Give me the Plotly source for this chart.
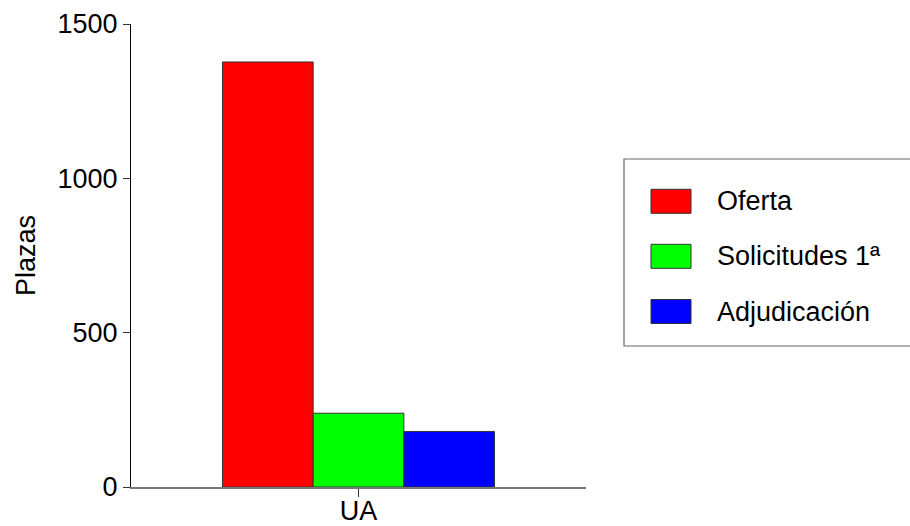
import plotly.graph_objects as go

categories = ["UA"]
series_names = ["Oferta", "Solicitudes 1ª", "Adjudicación"]
series_values = [[1377], [239], [180]]
series_colors = ["#ff0000", "#00ff00", "#0000ff"]
y_ticks = [0, 500, 1000, 1500]

W, H = 910, 526
# plot area in page pixel coordinates
L, R, T, B = 131, 586, 24, 487
FONT = "Liberation Sans, Arial, sans-serif"
FS = 27

def px(x):
    return (x - L) / (R - L)

def py(y):
    return (B - y) / (B - T)

fig = go.Figure()
for name, vals, col in zip(series_names, series_values, series_colors):
    fig.add_trace(go.Bar(x=categories, y=vals, name=name,
                         marker=dict(color=col, line=dict(color="#333333", width=1)),
                         showlegend=False))

# manual legend
shapes = [dict(type="rect", xref="paper", yref="paper",
               x0=px(624), x1=px(1000), y0=py(346), y1=py(159),
               line=dict(color="#666666", width=1.2), fillcolor="rgba(0,0,0,0)")]
annotations = []
centers = [201.3, 256.3, 311.5]
for name, col, cy in zip(series_names, series_colors, centers):
    shapes.append(dict(type="rect", xref="paper", yref="paper",
                       x0=px(651), x1=px(691), y0=py(cy + 12), y1=py(cy - 12),
                       line=dict(color="#333333", width=1), fillcolor=col))
    annotations.append(dict(xref="paper", yref="paper", x=px(715), y=py(cy),
                            text=name, showarrow=False, xanchor="left", yanchor="middle",
                            font=dict(family=FONT, size=FS, color="#000000")))

fig.update_layout(
    width=W, height=H,
    margin=dict(l=L, r=W - R, t=T, b=H - B, pad=0, autoexpand=False),
    paper_bgcolor="white", plot_bgcolor="white",
    barmode="group", bargap=0.402, bargroupgap=0,
    font=dict(family=FONT, size=FS, color="#000000"),
    shapes=shapes, annotations=annotations,
    xaxis=dict(range=[-0.5, 0.5], showgrid=False, zeroline=False, automargin=False,
               showline=True, linecolor="#777777", linewidth=1.5,
               ticks="outside", ticklen=8, tickcolor="#333333", tickwidth=1,
               ticklabelstandoff=-9,
               tickfont=dict(family=FONT, size=FS)),
    yaxis=dict(range=[0, 1500], tickvals=y_ticks, showgrid=False, zeroline=False,
               automargin=False,
               showline=True, linecolor="#000000", linewidth=1,
               ticks="outside", ticklen=7, tickcolor="#333333", tickwidth=1,
               tickfont=dict(family=FONT, size=FS),
               title=dict(text="Plazas", font=dict(family=FONT, size=FS), standoff=14)),
)

fig.write_html("out.html", config={"displayModeBar": False},
               post_script="document.body.style.margin='0';document.body.style.overflow='hidden';")
